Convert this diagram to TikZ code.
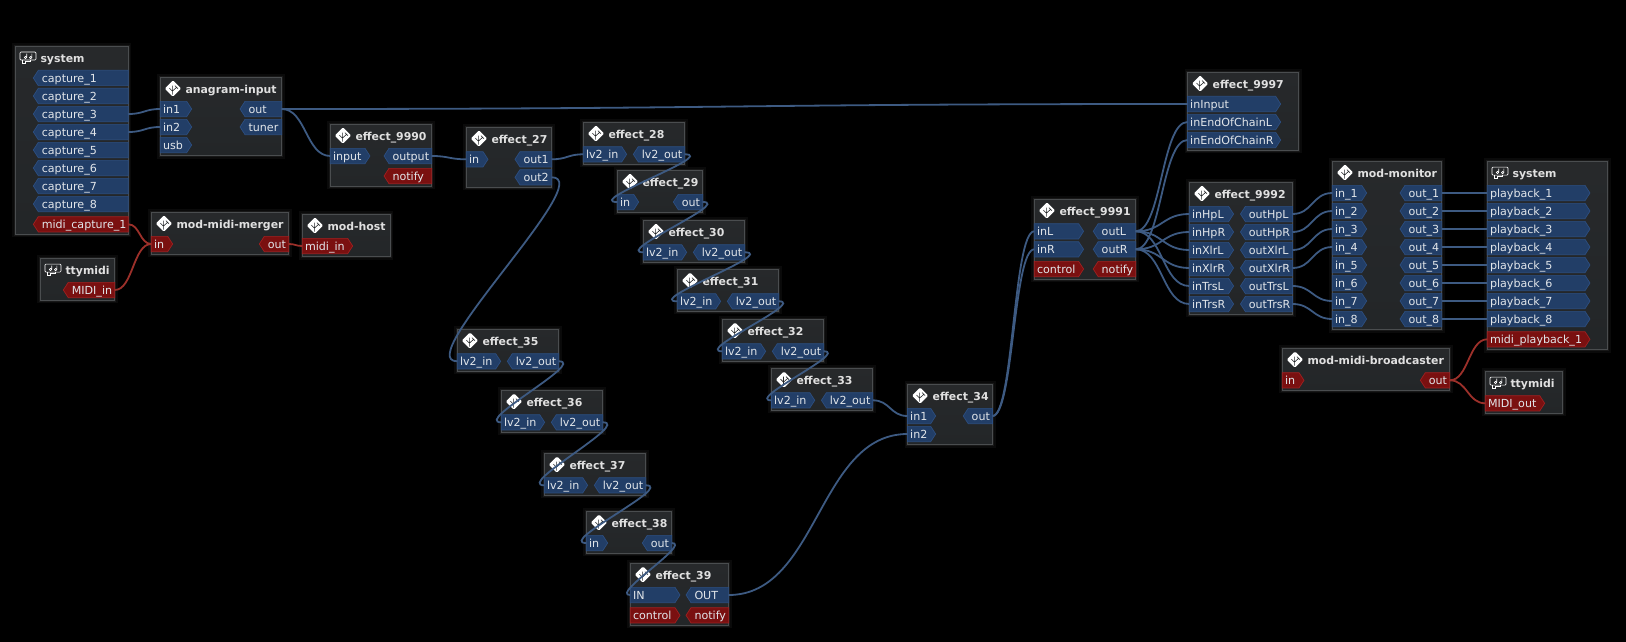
\documentclass[tikz,border=0pt]{standalone}
\usepackage{fontspec}
\setmainfont{DejaVu Sans}
\usetikzlibrary{shapes,shapes.symbols,calc}

\hyphenpenalty=10000
\exhyphenpenalty=10000

\definecolor{boxtop}{HTML}{27292B}
\definecolor{boxbot}{HTML}{232628}
\definecolor{boxline}{HTML}{4A4D4F}
\definecolor{audiofill}{HTML}{223E67}
\definecolor{audioline}{HTML}{2C4E80}
\definecolor{midifill}{HTML}{7A1010}
\definecolor{midiline}{HTML}{A02020}
\definecolor{audiowire}{HTML}{3D5A82}
\definecolor{midiwire}{HTML}{9C302A}
\definecolor{porttext}{HTML}{E2E6EA}

\tikzstyle{block} = [draw=boxline, line width=0.9pt, top color=boxtop, bottom color=boxbot, anchor=north west, inner sep=0pt, outer sep=0pt,
  preaction={draw=white, draw opacity=0.04, line width=6pt},
  preaction={draw=white, draw opacity=0.06, line width=3pt}]
\tikzstyle{title} = [anchor=base west, inner sep=0pt, text=white!88!black, font=\fontsize{10.9}{12}\selectfont\bfseries]
\tikzstyle{audio} = [fill=audiofill, draw=audioline]
\tikzstyle{midi} = [fill=midifill, draw=midiline]
\tikzstyle{audio wire} = [draw=audiowire, line width=1.8pt]
\tikzstyle{midi wire} = [draw=midiwire, line width=1.8pt]

\tikzset{
  port/.style={signal, signal pointer angle=114, line width=0.7pt, inner ysep=0pt, outer sep=0pt,
    text height=12.05pt, text depth=3.25pt, align=left, text=porttext,
    font=\fontsize{11.1}{12}\selectfont},
  inport/.style={port, inner xsep=2.7pt, signal to=east, anchor=west, text width={#1pt-10.4pt}}, % flat side on the box's left edge
  outport/.style={port, inner xsep=3.5pt, signal to=west, anchor=east, text width={#1pt-12pt}},
  plugin icon/.pic={
    \fill[white, rounded corners=1.2pt] (-8.2,0) -- (0,-8.2) -- (8.2,0) -- (0,8.2) -- cycle;
    \draw[boxbot, line width=0.6pt] (-0.5,-3) -- (-0.5,6) (-0.5,2.5) -- (4,-1.5) (-3.5,-0.5) -- (-0.5,2.5) (2,-3) -- (5,0);
  },
  card icon/.pic={
    \draw[white, line width=0.7pt, rounded corners=1pt] (-8,-5.5) rectangle (8,2.5);
    \draw[white, line width=0.7pt] (-6,2.5) -- (-6,5.5) -- (-3,5.5) -- (-3,4) -- (2,4) -- (2,2.5);
    \draw[white, line width=0.6pt] (-1.2,0) -- (-1.2,-4) (4,0) -- (4,-4) (-2.4,0) circle (1.2) (2.8,0) circle (1.2);
  },
}

% box with its icon and title
\newcommand{\plugbox}[7]{
  \path (anchor)+(#2,#3) node (#1) [block, minimum width=#4pt, minimum height=#5pt] {};
  \path (#1.north west)+(12.6,11.3) pic {#7 icon};
  \path (#1.north west)+(25,16.3) node (#1_title) [title] {#6};
}
\newcommand{\wire}[3][audio wire]{
  \draw[#1] let \p1=(#2.east), \p2=(#3.west), \n1={abs(\x1-\x2)/2} in (\p1) .. controls +(\n1,0) and +(-\n1,0) .. (\p2);
}

\begin{document}
\begin{tikzpicture}[x=1pt,y=-1pt]

\useasboundingbox (0,0) rectangle (1626,642);
\fill[black] (0,0) rectangle (1626,642);
\coordinate (anchor) at (0,0);

%Left side: capture and midi

\plugbox{sys_in}{15.3}{46.3}{113}{188}{system}{card}
\foreach \i in {1,...,8} {
  \path (sys_in.north east)+(0,13.7+18*\i) node (capture_\i) [outport=95, audio] {capture\_\i};
}
\path (sys_in.north east)+(0,178) node (midi_capture) [outport=95, midi] {midi\_capture\_1};

\plugbox{anagram}{160.3}{77.3}{121.4}{78.4}{anagram-input}{plugin}
\path (anagram.north west)+(0,31.7) node (anagram_in1) [inport=31.4, audio] {in1};
\path (anagram.north west)+(0,49.7) node (anagram_in2) [inport=31.4, audio] {in2};
\path (anagram.north west)+(0,67.7) node (anagram_usb) [inport=31.4, audio] {usb};
\path (anagram.north east)+(0,31.7) node (anagram_out) [outport=41.7, audio] {out};
\path (anagram.north east)+(0,49.7) node (anagram_tuner) [outport=41.7, audio] {tuner};

\plugbox{merger}{151.3}{212.3}{137.4}{42}{mod-midi-merger}{plugin}
\path (merger.north west)+(0,31.7) node (merger_in) [inport=21.4, midi] {in};
\path (merger.north east)+(0,31.7) node (merger_out) [outport=29.4, midi] {out};

\plugbox{host}{302.3}{214.3}{88}{42.4}{mod-host}{plugin}
\path (host.north west)+(0,31.7) node (host_in) [inport=50.4, midi] {midi\_in};

\plugbox{tty_in}{40.3}{258.3}{74.4}{42}{ttymidi}{card}
\path (tty_in.north east)+(0,31.7) node (tty_in_port) [outport=51.4, midi] {MIDI\_in};

%First chain

\plugbox{eff_9990}{330.3}{124.3}{101.4}{62}{effect\_9990}{plugin}
\path (eff_9990.north west)+(0,31.7) node (eff_9990_in) [inport=39.7, audio] {input};
\path (eff_9990.north east)+(0,31.7) node (eff_9990_out) [outport=47.7, audio] {output};
\path (eff_9990.north east)+(0,51.7) node (eff_9990_notify) [outport=47.7, midi] {notify};

\plugbox{eff_27}{466.3}{127.3}{85.4}{60}{effect\_27}{plugin}
\path (eff_27.north west)+(0,32) node (eff_27_in) [inport=21.7, audio] {in};
\path (eff_27.north east)+(0,32) node (eff_27_out1) [outport=36.7, audio] {out1};
\path (eff_27.north east)+(0,50) node (eff_27_out2) [outport=36.7, audio] {out2};

\foreach \n/\x/\y in {28/583.3/122.3, 30/643.3/220.3, 31/677.3/269.3, 32/722.3/319.3, 33/771.4/368.3, 35/457.3/329.3, 36/501.3/390.3, 37/544.3/453.3} {
  \plugbox{eff_\n}{\x}{\y}{101.4}{42}{effect\_\n}{plugin}
  \path (eff_\n.north west)+(0,32) node (eff_\n_in) [inport=43.4, audio] {lv2\_in};
  \path (eff_\n.north east)+(0,32) node (eff_\n_out) [outport=51.4, audio] {lv2\_out};
}

\foreach \n/\x/\y in {29/617.3/170.3, 38/586.3/511.3} {
  \plugbox{eff_\n}{\x}{\y}{85.4}{42}{effect\_\n}{plugin}
  \path (eff_\n.north west)+(0,31.7) node (eff_\n_in) [inport=21.4, audio] {in};
  \path (eff_\n.north east)+(0,31.7) node (eff_\n_out) [outport=29.4, audio] {out};
}

\plugbox{eff_34}{907.5}{384.3}{85}{60.4}{effect\_34}{plugin}
\path (eff_34.north west)+(0,31.7) node (eff_34_in1) [inport=28.2, audio] {in1};
\path (eff_34.north west)+(0,49.7) node (eff_34_in2) [inport=28.2, audio] {in2};
\path (eff_34.north east)+(0,31.7) node (eff_34_out) [outport=29.3, audio] {out};

\plugbox{eff_39}{630.3}{563.3}{98.4}{62}{effect\_39}{plugin}
\path (eff_39.north west)+(0,31.7) node (eff_39_in) [inport=49.7, audio] {IN};
\path (eff_39.north east)+(0,31.7) node (eff_39_out) [outport=42.7, audio] {OUT};
\path (eff_39.north west)+(0,52) node (eff_39_control) [inport=49.7, midi] {control};
\path (eff_39.north east)+(0,52) node (eff_39_notify) [outport=42.7, midi] {notify};

%Output side

\plugbox{eff_9991}{1034.3}{199.3}{101.4}{80}{effect\_9991}{plugin}
\path (eff_9991.north west)+(0,32) node (eff_9991_inL) [inport=49.3, audio] {inL};
\path (eff_9991.north west)+(0,50) node (eff_9991_inR) [inport=49.3, audio] {inR};
\path (eff_9991.north east)+(0,32) node (eff_9991_outL) [outport=42.5, audio] {outL};
\path (eff_9991.north east)+(0,50) node (eff_9991_outR) [outport=42.5, audio] {outR};
\path (eff_9991.north west)+(0,69.7) node (eff_9991_control) [inport=49.3, midi] {control};
\path (eff_9991.north east)+(0,69.7) node (eff_9991_notify) [outport=42.5, midi] {notify};

\plugbox{eff_9997}{1187.5}{72.3}{111.1}{78}{effect\_9997}{plugin}
\path (eff_9997.north west)+(0,31.7) node (eff_9997_input) [inport=93.2, audio] {inInput};
\path (eff_9997.north west)+(0,49.7) node (eff_9997_chainL) [inport=93.2, audio] {inEndOfChainL};
\path (eff_9997.north west)+(0,67.7) node (eff_9997_chainR) [inport=93.2, audio] {inEndOfChainR};

\plugbox{eff_9992}{1189.3}{182.3}{103.2}{132}{effect\_9992}{plugin}
\foreach \s [count=\k from 0] in {HpL,HpR,XlrL,XlrR,TrsL,TrsR} {
  \path (eff_9992.north west)+(0,31.7+18*\k) node (in\s) [inport=44.3, audio] {in\s};
  \path (eff_9992.north east)+(0,31.7+18*\k) node (out\s) [outport=52.1, audio] {out\s};
}

\plugbox{monitor}{1332.3}{161.3}{109.4}{168.4}{mod-monitor}{plugin}
\plugbox{sys_out}{1487.3}{161.3}{120.4}{188.4}{system}{card}
\foreach \i in {1,...,8} {
  \path (monitor.north west)+(0,13.7+18*\i) node (mon_in_\i) [inport=34.4, audio] {in\_\i};
  \path (monitor.north east)+(0,13.7+18*\i) node (mon_out_\i) [outport=41.7, audio] {out\_\i};
  \path (sys_out.north west)+(0,13.7+18*\i) node (playback_\i) [inport=102.7, audio] {playback\_\i};
}
\path (sys_out.north west)+(0,178) node (midi_playback) [inport=102.7, midi] {midi\_playback\_1};

\plugbox{broadcaster}{1282.3}{348.3}{167.4}{42}{mod-midi-broadcaster}{plugin}
\path (broadcaster.north west)+(0,32) node (broadcaster_in) [inport=21.7, midi] {in};
\path (broadcaster.north east)+(0,32) node (broadcaster_out) [outport=29.4, midi] {out};

\plugbox{tty_out}{1485.3}{371.3}{77.4}{42}{ttymidi}{card}
\path (tty_out.north west)+(0,32) node (tty_out_port) [inport=59.4, midi] {MIDI\_out};

%Wires

\wire{capture_3}{anagram_in1}
\wire{capture_4}{anagram_in2}
\wire{anagram_out}{eff_9990_in}
\wire{anagram_out}{eff_9997_input}
\wire{eff_9990_out}{eff_27_in}
\wire{eff_27_out1}{eff_28_in}
\wire{eff_27_out2}{eff_35_in}

\foreach \a/\b in {28/29, 29/30, 30/31, 31/32, 32/33, 35/36, 36/37, 37/38, 38/39} {
  \wire{eff_\a_out}{eff_\b_in}
}

\wire{eff_33_out}{eff_34_in1}
\wire{eff_39_out}{eff_34_in2}
\wire{eff_34_out}{eff_9991_inL}
\wire{eff_34_out}{eff_9991_inR}
\wire{eff_9991_outL}{eff_9997_chainL}
\wire{eff_9991_outR}{eff_9997_chainR}

\foreach \s in {HpL,XlrL,TrsL} {
  \wire{eff_9991_outL}{in\s}
}
\foreach \s in {HpR,XlrR,TrsR} {
  \wire{eff_9991_outR}{in\s}
}

\foreach \s/\i in {HpL/1, HpR/2, XlrL/3, XlrR/4, TrsL/7, TrsR/8} {
  \wire{out\s}{mon_in_\i}
}
\foreach \i in {1,...,8} {
  \wire{mon_out_\i}{playback_\i}
}

\wire[midi wire]{midi_capture}{merger_in}
\wire[midi wire]{tty_in_port}{merger_in}
\wire[midi wire]{merger_out}{host_in}
\wire[midi wire]{broadcaster_out}{midi_playback}
\wire[midi wire]{broadcaster_out}{tty_out_port}

\end{tikzpicture}
\end{document}
